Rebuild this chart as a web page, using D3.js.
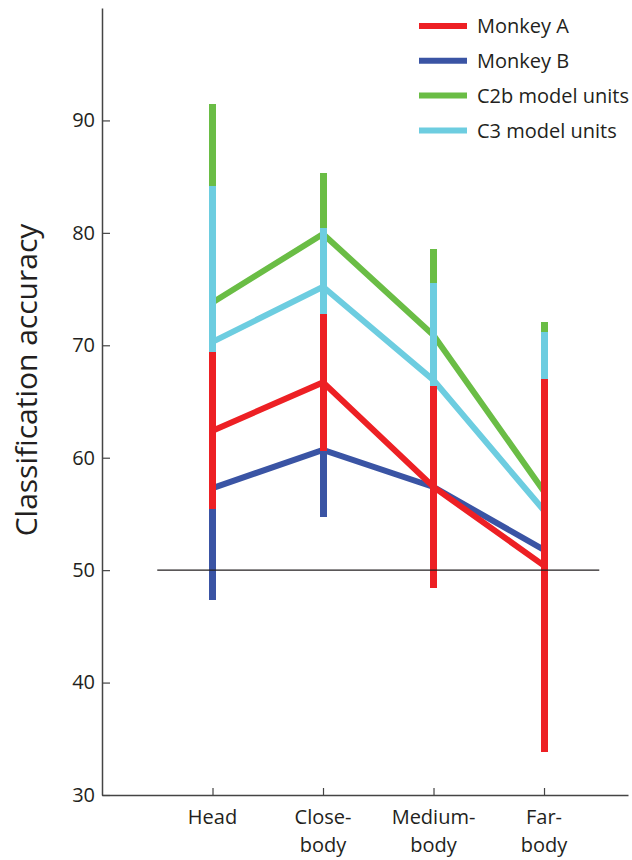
<!DOCTYPE html>
<html>
<head>
<meta charset="utf-8">
<script src="https://cdn.jsdelivr.net/npm/d3@7"></script>
<style>
  body { margin: 0; background: #fff; }
  text { font-family: "Open Sans", "Noto Sans", sans-serif; fill: #231f20; }
</style>
</head>
<body>
<svg id="plot" width="632" height="860"></svg>
<script>
// categories and tick labels
const categories = ["Head", "Close-body", "Medium-body", "Far-body"];
const categoryLines = [["Head"], ["Close-", "body"], ["Medium-", "body"], ["Far-", "body"]];
const yTicks = [30, 40, 50, 60, 70, 80, 90];
const chanceLevel = 50;

// series: mean accuracy and error half-width per category
const seriesNames = ["Monkey A", "Monkey B", "C2b model units", "C3 model units"];
const monkeyA = [62.4, 66.7, 57.4, 50.4];
const monkeyAErr = [7.0, 6.1, 9.0, 16.6];
const monkeyB = [57.3, 60.7, 57.4, 51.8];
const monkeyBErr = [10.0, 6.0, 6.0, 10.0];
const c2b = [73.8, 79.9, 70.9, 57.0];
const c2bErr = [17.7, 5.4, 7.7, 15.1];
const c3 = [70.3, 75.2, 66.9, 55.3];
const c3Err = [13.9, 5.2, 8.6, 15.9];

const colors = {
  "Monkey A": "#ed2024",
  "Monkey B": "#3a54a4",
  "C2b model units": "#6abd45",
  "C3 model units": "#6dcde0"
};

const series = [
  { name: "Monkey A", mean: monkeyA, err: monkeyAErr },
  { name: "Monkey B", mean: monkeyB, err: monkeyBErr },
  { name: "C2b model units", mean: c2b, err: c2bErr },
  { name: "C3 model units", mean: c3, err: c3Err }
];
// drawing order: model units underneath, monkey A on top
const drawOrder = ["C2b model units", "C3 model units", "Monkey B", "Monkey A"];

const svg = d3.select("#plot");

// x is category index, axis runs a bit past both ends
const x = d3.scaleLinear()
  .domain([-1, 3.76])
  .range([102, 628]);

const y = d3.scaleLinear()
  .domain([30, 100])
  .range([795, 8]);

// y axis, ticks pointing inward
const yAxis = svg.append("g")
  .attr("transform", "translate(" + x(-1) + ",0)")
  .call(d3.axisLeft(y).tickValues(yTicks).tickSizeInner(-8).tickSizeOuter(0).tickPadding(7));
yAxis.select(".domain").attr("stroke", "#444").attr("stroke-width", 1.5);
yAxis.selectAll(".tick line").attr("stroke", "#444").attr("stroke-width", 1.2);
yAxis.selectAll(".tick text")
  .style("font-size", "20px")
  .style("font-family", "'Open Sans', sans-serif")
  .attr("fill", "#231f20");

// x axis
const xAxis = svg.append("g")
  .attr("transform", "translate(0," + y(30) + ")")
  .call(d3.axisBottom(x).tickValues(d3.range(categories.length)).tickSizeInner(-7).tickSizeOuter(0).tickFormat(""));
xAxis.select(".domain").attr("stroke", "#444").attr("stroke-width", 1.5);
xAxis.selectAll(".tick line").attr("stroke", "#444").attr("stroke-width", 1.2);

const xLabels = svg.append("g")
  .selectAll("text")
  .data(categoryLines)
  .join("text")
    .attr("x", (d, i) => x(i))
    .attr("y", 824)
    .attr("text-anchor", "middle")
    .style("font-size", "20px");
xLabels.selectAll("tspan")
  .data(d => d)
  .join("tspan")
    .attr("x", function () { return this.parentNode.getAttribute("x"); })
    .attr("dy", (d, i) => i === 0 ? 0 : 28)
    .text(d => d);

// y axis title
svg.append("text")
  .attr("transform", "translate(37," + 380 + ") rotate(-90)")
  .attr("text-anchor", "middle")
  .style("font-size", "30px")
  .text("Classification accuracy");

// lines and error bars
const line = d3.line()
  .x((d, i) => x(i))
  .y(d => y(d));

const marks = svg.append("g");
drawOrder.forEach(name => {
  const s = series.find(d => d.name === name);
  const g = marks.append("g");
  g.append("path")
    .datum(s.mean)
    .attr("d", line)
    .attr("fill", "none")
    .attr("stroke", colors[name])
    .attr("stroke-width", 6)
    .attr("stroke-linejoin", "miter");
  g.selectAll("line")
    .data(s.mean)
    .join("line")
      .attr("x1", (d, i) => x(i))
      .attr("x2", (d, i) => x(i))
      .attr("y1", (d, i) => y(d + s.err[i]))
      .attr("y2", (d, i) => y(d - s.err[i]))
      .attr("stroke", colors[name])
      .attr("stroke-width", 7)
      .attr("shape-rendering", "crispEdges");
});

// chance level
svg.append("line")
  .attr("x1", x(-0.5))
  .attr("x2", x(3.5))
  .attr("y1", y(chanceLevel))
  .attr("y2", y(chanceLevel))
  .attr("stroke", "#231f20")
  .attr("stroke-width", 1.3);

// legend
const legend = svg.append("g")
  .selectAll("g")
  .data(seriesNames)
  .join("g")
    .attr("transform", (d, i) => "translate(419," + (26 + i * 34.8) + ")");
legend.append("line")
  .attr("x1", 0)
  .attr("x2", 48)
  .attr("stroke", d => colors[d])
  .attr("stroke-width", 6);
legend.append("text")
  .attr("x", 58)
  .attr("dy", "0.36em")
  .style("font-size", "20px")
  .text(d => d);
</script>
</body>
</html>
